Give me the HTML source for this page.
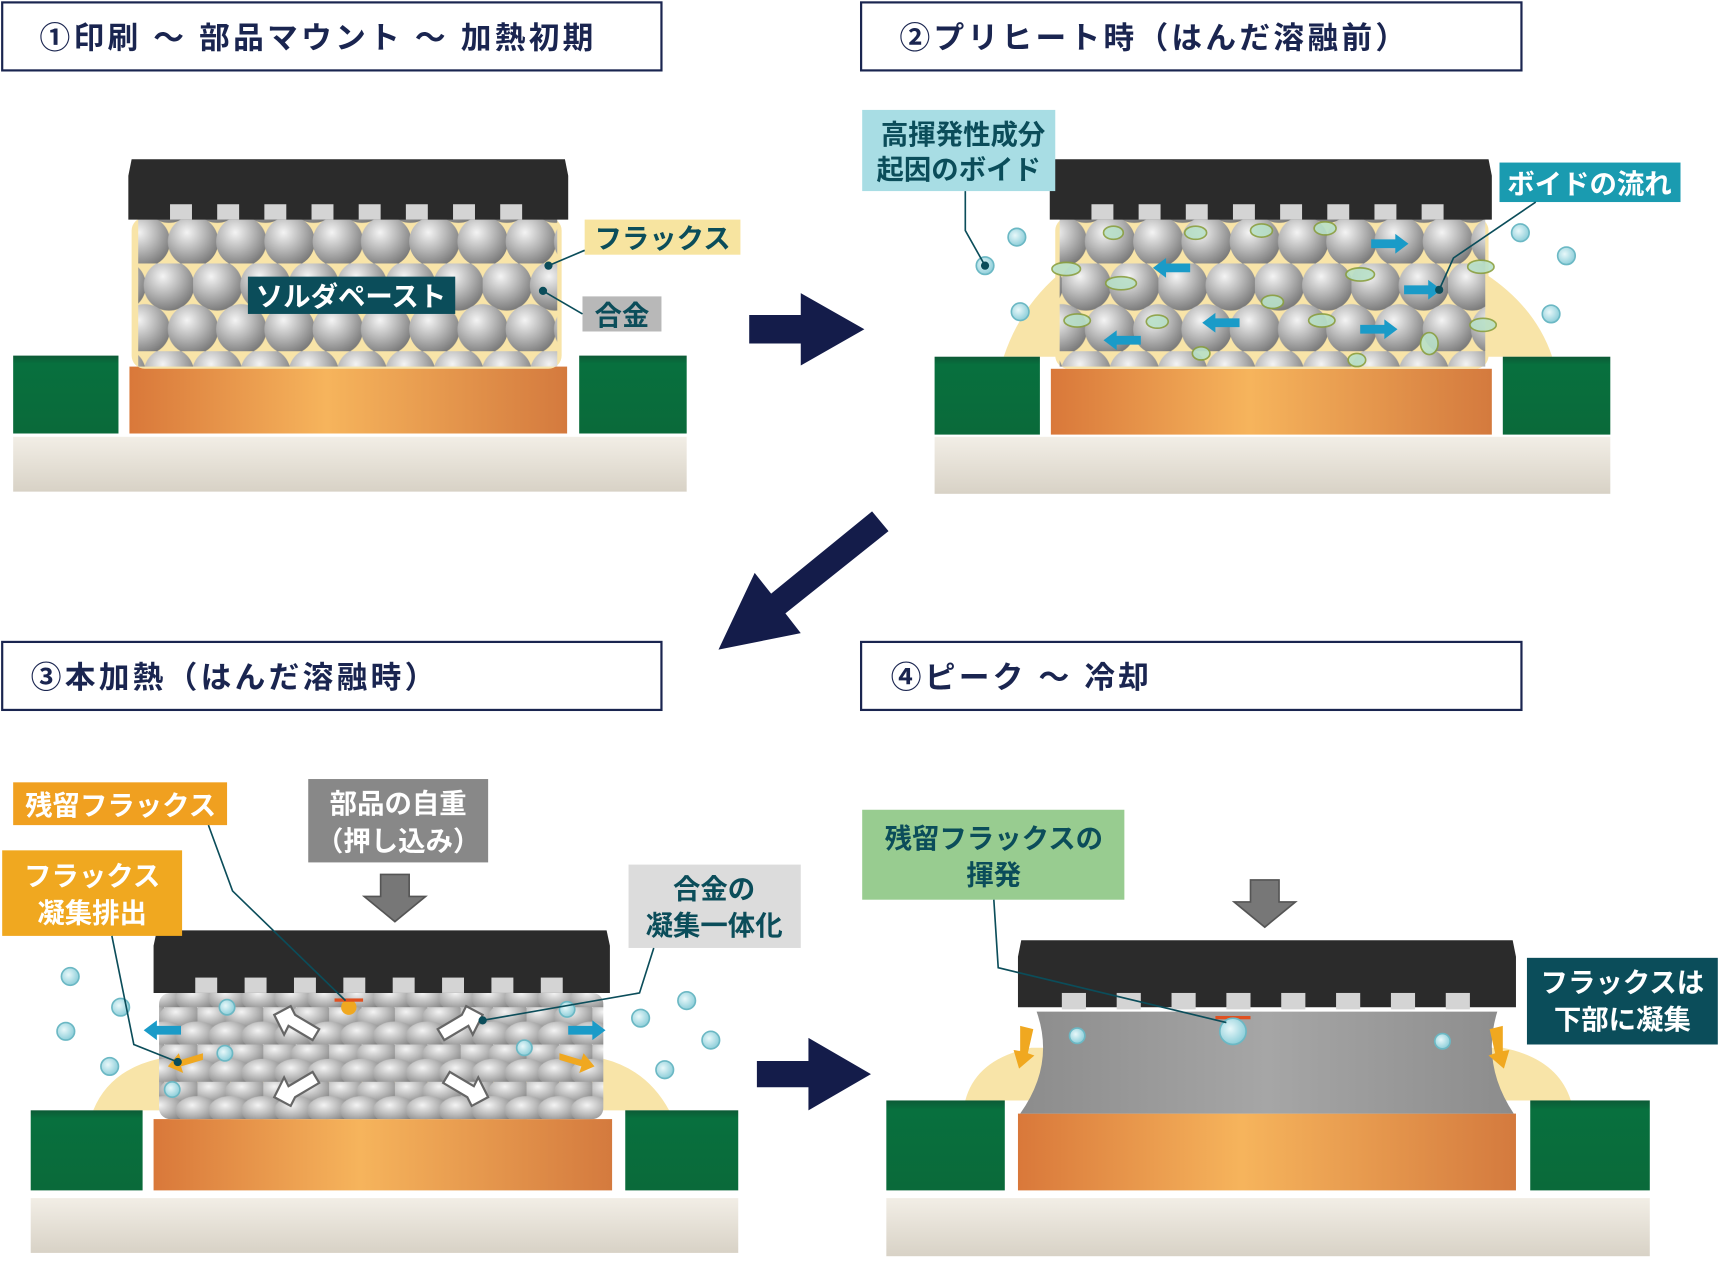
<!DOCTYPE html>
<html><head><meta charset="utf-8"><style>
html,body{margin:0;padding:0;background:#fff;}
svg{display:block;}
text{font-family:"Liberation Sans","Noto Sans CJK JP",sans-serif;font-weight:bold;}
</style></head><body>
<svg width="1720" height="1263" viewBox="0 0 1568 1151" xmlns="http://www.w3.org/2000/svg">
<defs>
<radialGradient id="ball" cx="0.38" cy="0.32" r="0.7">
<stop offset="0" stop-color="#f4f4f4"/><stop offset="0.5" stop-color="#b8b8b8"/><stop offset="1" stop-color="#7a7a7a"/></radialGradient>
<linearGradient id="cu" x1="0" y1="0" x2="1" y2="0">
<stop offset="0" stop-color="#d9783a"/><stop offset="0.45" stop-color="#f6b45c"/><stop offset="1" stop-color="#d47a3e"/></linearGradient>
<linearGradient id="base" x1="0" y1="0" x2="0" y2="1">
<stop offset="0" stop-color="#f2eee6"/><stop offset="1" stop-color="#d8d2c6"/></linearGradient>
<linearGradient id="green" x1="0" y1="0" x2="0" y2="1">
<stop offset="0" stop-color="#0d5a36"/><stop offset="0.1" stop-color="#08703e"/><stop offset="1" stop-color="#0a6a3a"/></linearGradient>
<radialGradient id="bub" cx="0.4" cy="0.4" r="0.6"><stop offset="0" stop-color="#e8f8fa"/><stop offset="1" stop-color="#8fcfda"/></radialGradient>
<pattern id="balls" width="88" height="80" patternUnits="userSpaceOnUse">
<circle cx="22" cy="20" r="23" fill="url(#ball)"/><circle cx="66" cy="20" r="23" fill="url(#ball)"/>
<circle cx="0" cy="60" r="23" fill="url(#ball)"/><circle cx="44" cy="60" r="23" fill="url(#ball)"/><circle cx="88" cy="60" r="23" fill="url(#ball)"/>
</pattern>
<pattern id="flat" width="60" height="34" patternUnits="userSpaceOnUse">
<ellipse cx="15" cy="9" rx="20" ry="13" fill="url(#ball)"/><ellipse cx="45" cy="9" rx="20" ry="13" fill="url(#ball)"/>
<ellipse cx="0" cy="26" rx="20" ry="13" fill="url(#ball)"/><ellipse cx="30" cy="26" rx="20" ry="13" fill="url(#ball)"/><ellipse cx="60" cy="26" rx="20" ry="13" fill="url(#ball)"/>
</pattern>
<linearGradient id="solder" x1="0" y1="0" x2="1" y2="0">
<stop offset="0" stop-color="#8c8c8c"/><stop offset="0.5" stop-color="#a6a6a6"/><stop offset="1" stop-color="#8c8c8c"/></linearGradient>
</defs>

<!-- Titles -->
<g fill="#fff" stroke="#1a2550" stroke-width="2">
<rect x="2" y="2" width="601" height="62"/><rect x="785" y="2" width="602" height="62"/>
<rect x="2" y="585" width="601" height="62"/><rect x="785" y="585" width="602" height="62"/>
</g>
<g fill="#1a2550" font-size="28" letter-spacing="3">
<text x="36" y="44">①印刷 〜 部品マウント 〜 加熱初期</text>
<text x="820" y="44">②プリヒート時（はんだ溶融前）</text>
<text x="28" y="627">③本加熱（はんだ溶融時）</text>
<text x="812" y="627">④ピーク 〜 冷却</text>
</g>

<!-- Panel 1 -->
<rect x="12" y="398" width="614" height="50" fill="url(#base)"/>
<rect x="12" y="324" width="96" height="71" fill="url(#green)"/>
<rect x="528" y="324" width="98" height="71" fill="url(#green)"/>
<rect x="118" y="334" width="399" height="61" fill="url(#cu)"/>
<rect x="120" y="198" width="392" height="138" rx="12" fill="#f8e4a8"/>
<rect x="126" y="198" width="382" height="136" fill="url(#balls)"/>
<path d="M120 145 L515 145 L518 160 L518 200 L117 200 L117 160 Z" fill="#2b2b2b"/>
<g fill="#d4d4d4"><rect x="155" y="186" width="20" height="14"/><rect x="198" y="186" width="20" height="14"/><rect x="241" y="186" width="20" height="14"/><rect x="284" y="186" width="20" height="14"/><rect x="327" y="186" width="20" height="14"/><rect x="370" y="186" width="20" height="14"/><rect x="413" y="186" width="20" height="14"/><rect x="456" y="186" width="20" height="14"/></g>
<rect x="226" y="252" width="189" height="34" fill="#0b4d5a"/>
<text x="320" y="279" font-size="25" fill="#fff" text-anchor="middle">ソルダペースト</text>
<rect x="533" y="200" width="142" height="32" fill="#f7e4a0"/>
<text x="604" y="226" font-size="25" fill="#0b4d5a" text-anchor="middle">フラックス</text>
<rect x="531" y="270" width="72" height="32" fill="#b8b8b8"/>
<text x="567" y="296" font-size="25" fill="#0b4d5a" text-anchor="middle">合金</text>
<g stroke="#0b4d5a" stroke-width="1.5" fill="#0b4d5a"><line x1="500" y1="242" x2="533" y2="228"/><circle cx="500" cy="242" r="3"/><line x1="495" y1="265" x2="531" y2="286"/><circle cx="495" cy="265" r="3"/></g>
<path d="M683 287 L730 287 L730 267 L788 300 L730 333 L730 313 L683 313 Z" fill="#141c4a"/>

<!-- Panel 2 -->
<rect x="852" y="398" width="616" height="52" fill="url(#base)"/>
<path d="M915 325 Q930 280 965 250 L1355 250 Q1400 280 1415 325 Z" fill="#f8e4a8"/>
<rect x="852" y="325" width="96" height="71" fill="url(#green)"/>
<rect x="1370" y="325" width="98" height="71" fill="url(#green)"/>
<rect x="958" y="336" width="402" height="60" fill="url(#cu)"/>
<rect x="962" y="198" width="395" height="138" rx="12" fill="#f8e4a8"/>
<rect x="966" y="198" width="388" height="136" fill="url(#balls)"/>
<path d="M961 145 L1357 145 L1360 160 L1360 200 L957 200 L957 160 Z" fill="#2b2b2b"/>
<g fill="#d4d4d4"><rect x="995" y="186" width="20" height="14"/><rect x="1038" y="186" width="20" height="14"/><rect x="1081" y="186" width="20" height="14"/><rect x="1124" y="186" width="20" height="14"/><rect x="1167" y="186" width="20" height="14"/><rect x="1210" y="186" width="20" height="14"/><rect x="1253" y="186" width="20" height="14"/><rect x="1296" y="186" width="20" height="14"/></g>
<g fill="#b8e0c8" stroke="#8aa040" stroke-width="1.5" opacity="0.9">
<ellipse cx="972" cy="245" rx="13" ry="6"/><ellipse cx="1022" cy="258" rx="14" ry="6"/><ellipse cx="1090" cy="212" rx="10" ry="6"/><ellipse cx="1150" cy="210" rx="10" ry="6"/><ellipse cx="1208" cy="208" rx="10" ry="6"/><ellipse cx="1240" cy="250" rx="13" ry="6"/><ellipse cx="1350" cy="243" rx="12" ry="6"/><ellipse cx="982" cy="292" rx="12" ry="6"/><ellipse cx="1055" cy="293" rx="10" ry="6"/><ellipse cx="1160" cy="275" rx="10" ry="6"/><ellipse cx="1205" cy="292" rx="12" ry="6"/><ellipse cx="1352" cy="296" rx="12" ry="6"/><ellipse cx="1303" cy="313" rx="8" ry="10"/><ellipse cx="1015" cy="212" rx="9" ry="6"/><ellipse cx="1095" cy="322" rx="8" ry="6"/><ellipse cx="1237" cy="328" rx="8" ry="6"/></g>
<g fill="#1a9bc8">
<path d="M1250 218 h22 v-5 l12 9 l-12 9 v-5 h-22z"/><path d="M1085 240 h-22 v-5 l-12 9 l12 9 v-5 h22z"/><path d="M1280 260 h22 v-5 l12 9 l-12 9 v-5 h-22z"/><path d="M1130 290 h-22 v-5 l-12 9 l12 9 v-5 h22z"/><path d="M1240 296 h22 v-5 l12 9 l-12 9 v-5 h-22z"/><path d="M1040 306 h-22 v-5 l-12 9 l12 9 v-5 h22z"/></g>
<g fill="url(#bub)" stroke="#6bb8c4" stroke-width="1.5">
<circle cx="927" cy="216" r="8"/><circle cx="898" cy="242" r="8"/><circle cx="930" cy="284" r="8"/><circle cx="1386" cy="212" r="8"/><circle cx="1428" cy="233" r="8"/><circle cx="1414" cy="286" r="8"/></g>
<rect x="786" y="100" width="176" height="74" fill="#a8dde4"/>
<text x="878" y="131" font-size="25" fill="#0b4d5a" text-anchor="middle">高揮発性成分</text>
<text x="874" y="163" font-size="25" fill="#0b4d5a" text-anchor="middle">起因のボイド</text>
<rect x="1367" y="148" width="165" height="36" fill="#1a9bb0"/>
<text x="1449" y="176" font-size="25" fill="#fff" text-anchor="middle">ボイドの流れ</text>
<g stroke="#0b4d5a" stroke-width="1.5" fill="#0b4d5a"><polyline points="880,174 880,210 898,242" fill="none"/><circle cx="898" cy="242" r="3"/><polyline points="1400,184 1325,235 1312,264" fill="none"/><circle cx="1312" cy="264" r="3"/></g>
<path d="M810 484 L795 466 L703 541 L688 522 L655 592 L730 577 L716 559 Z" fill="#141c4a"/>

<!-- Panel 3 -->
<rect x="28" y="1092" width="645" height="50" fill="url(#base)"/>
<path d="M85 1012 Q100 975 145 965 L550 965 Q590 975 610 1012 Z" fill="#f8e4a8"/>
<rect x="28" y="1012" width="102" height="73" fill="url(#green)"/>
<rect x="570" y="1012" width="103" height="73" fill="url(#green)"/>
<rect x="140" y="1020" width="418" height="65" fill="url(#cu)"/>
<rect x="145" y="905" width="405" height="115" rx="10" fill="url(#flat)"/>
<path d="M143 848 L553 848 L556 862 L556 905 L140 905 L140 862 Z" fill="#2b2b2b"/>
<g fill="#d4d4d4"><rect x="178" y="891" width="20" height="14"/><rect x="223" y="891" width="20" height="14"/><rect x="268" y="891" width="20" height="14"/><rect x="313" y="891" width="20" height="14"/><rect x="358" y="891" width="20" height="14"/><rect x="403" y="891" width="20" height="14"/><rect x="448" y="891" width="20" height="14"/><rect x="493" y="891" width="20" height="14"/></g>
<g fill="#fff" stroke="#666" stroke-width="2">
<path d="M250 925 l15 -8 l4 8 l22 13 l-6 10 l-22 -13 l-4 8 z"/><path d="M440 925 l-15 -8 l-4 8 l-22 13 l6 10 l22 -13 l4 8 z"/>
<path d="M250 1000 l15 8 l4 -8 l22 -13 l-6 -10 l-22 13 l-4 -8 z"/><path d="M445 1000 l-15 8 l-4 -8 l-22 -13 l6 -10 l22 13 l4 -8 z"/></g>
<circle cx="318" cy="918" r="7" fill="#f0a820"/><rect x="305" y="910" width="26" height="3" fill="#e05020"/>
<g fill="#1a9bc8"><path d="M165 935 h-22 v-5 l-12 9 l12 9 v-5 h22z"/><path d="M518 935 h22 v-5 l12 9 l-12 9 v-5 h-22z"/></g>
<g fill="#f0a820"><path d="M185 960 l-20 6 l-2 -6 l-10 12 l14 6 l-2 -6 l20 -6z"/><path d="M510 960 l20 6 l2 -6 l10 12 l-14 6 l2 -6 l-20 -6z"/></g>
<g fill="url(#bub)" stroke="#6bb8c4" stroke-width="1.5">
<circle cx="64" cy="890" r="8"/><circle cx="110" cy="918" r="8"/><circle cx="60" cy="940" r="8"/><circle cx="100" cy="972" r="8"/><circle cx="157" cy="993" r="7"/><circle cx="205" cy="960" r="7"/><circle cx="207" cy="918" r="7"/><circle cx="517" cy="920" r="7"/><circle cx="478" cy="955" r="7"/><circle cx="584" cy="928" r="8"/><circle cx="626" cy="912" r="8"/><circle cx="648" cy="948" r="8"/><circle cx="606" cy="975" r="8"/></g>
<path d="M347 797 h26 v20 h15 l-28 23 l-28 -23 h15z" fill="#777" stroke="#555" stroke-width="1.5"/>
<rect x="12" y="713" width="195" height="39" fill="#f0a020"/>
<text x="110" y="743" font-size="25" fill="#fff" text-anchor="middle">残留フラックス</text>
<rect x="2" y="775" width="164" height="78" fill="#f0a820"/>
<text x="84" y="807" font-size="25" fill="#fff" text-anchor="middle">フラックス</text>
<text x="84" y="841" font-size="25" fill="#fff" text-anchor="middle">凝集排出</text>
<rect x="281" y="710" width="164" height="76" fill="#888"/>
<text x="363" y="741" font-size="25" fill="#fff" text-anchor="middle">部品の自重</text>
<text x="363" y="775" font-size="25" fill="#fff" text-anchor="middle">（押し込み）</text>
<rect x="573" y="788" width="157" height="76" fill="#dcdcdc"/>
<text x="651" y="819" font-size="25" fill="#0b4d5a" text-anchor="middle">合金の</text>
<text x="651" y="852" font-size="25" fill="#0b4d5a" text-anchor="middle">凝集一体化</text>
<g stroke="#0b4d5a" stroke-width="1.5" fill="#0b4d5a"><polyline points="190,752 212,812 315,912" fill="none"/><polyline points="102,853 122,952 162,968" fill="none"/><circle cx="162" cy="968" r="3"/><polyline points="596,864 583,905 440,930" fill="none"/><circle cx="440" cy="930" r="3"/></g>
<path d="M690 967 L737 967 L737 946 L794 979 L737 1012 L737 991 L690 991 Z" fill="#141c4a"/>

<!-- Panel 4 -->
<rect x="808" y="1092" width="696" height="53" fill="url(#base)"/>
<path d="M880 1003 Q890 965 940 955 L1370 955 Q1420 965 1432 1003 Z" fill="#f8e4a8"/>
<rect x="808" y="1003" width="108" height="82" fill="url(#green)"/>
<rect x="1395" y="1003" width="109" height="82" fill="url(#green)"/>
<rect x="928" y="1015" width="454" height="70" fill="url(#cu)"/>
<path d="M945 922 L1365 922 Q1350 970 1380 1015 L930 1015 Q962 970 945 922 Z" fill="url(#solder)"/>
<path d="M931 857 L1379 857 L1382 872 L1382 918 L928 918 L928 872 Z" fill="#2b2b2b"/>
<g fill="#d4d4d4"><rect x="968" y="905" width="22" height="15"/><rect x="1018" y="905" width="22" height="15"/><rect x="1068" y="905" width="22" height="15"/><rect x="1118" y="905" width="22" height="15"/><rect x="1168" y="905" width="22" height="15"/><rect x="1218" y="905" width="22" height="15"/><rect x="1268" y="905" width="22" height="15"/><rect x="1318" y="905" width="22" height="15"/></g>
<rect x="1108" y="926" width="32" height="3" fill="#e05020"/>
<g fill="url(#bub)" stroke="#6bb8c4" stroke-width="1.5"><circle cx="1124" cy="940" r="12"/><circle cx="982" cy="944" r="7"/><circle cx="1315" cy="949" r="7"/></g>
<g fill="#f0a820"><path d="M930 935 l12 3 l-5 22 l6 2 l-14 12 l-5 -17 l6 1z"/><path d="M1370 935 l-12 3 l5 22 l-6 2 l14 12 l5 -17 l-6 1z"/></g>
<path d="M1140 802 h26 v20 h15 l-28 23 l-28 -23 h15z" fill="#777" stroke="#555" stroke-width="1.5"/>
<rect x="786" y="738" width="239" height="82" fill="#98cc90"/>
<text x="906" y="773" font-size="25" fill="#0b4d5a" text-anchor="middle">残留フラックスの</text>
<text x="906" y="806" font-size="25" fill="#0b4d5a" text-anchor="middle">揮発</text>
<rect x="1392" y="873" width="174" height="79" fill="#0b4d5a"/>
<text x="1479" y="904" font-size="25" fill="#fff" text-anchor="middle">フラックスは</text>
<text x="1479" y="938" font-size="25" fill="#fff" text-anchor="middle">下部に凝集</text>
<polyline points="906,820 910,882 1118,932" fill="none" stroke="#0b4d5a" stroke-width="1.5"/>
</svg>
</body></html>
